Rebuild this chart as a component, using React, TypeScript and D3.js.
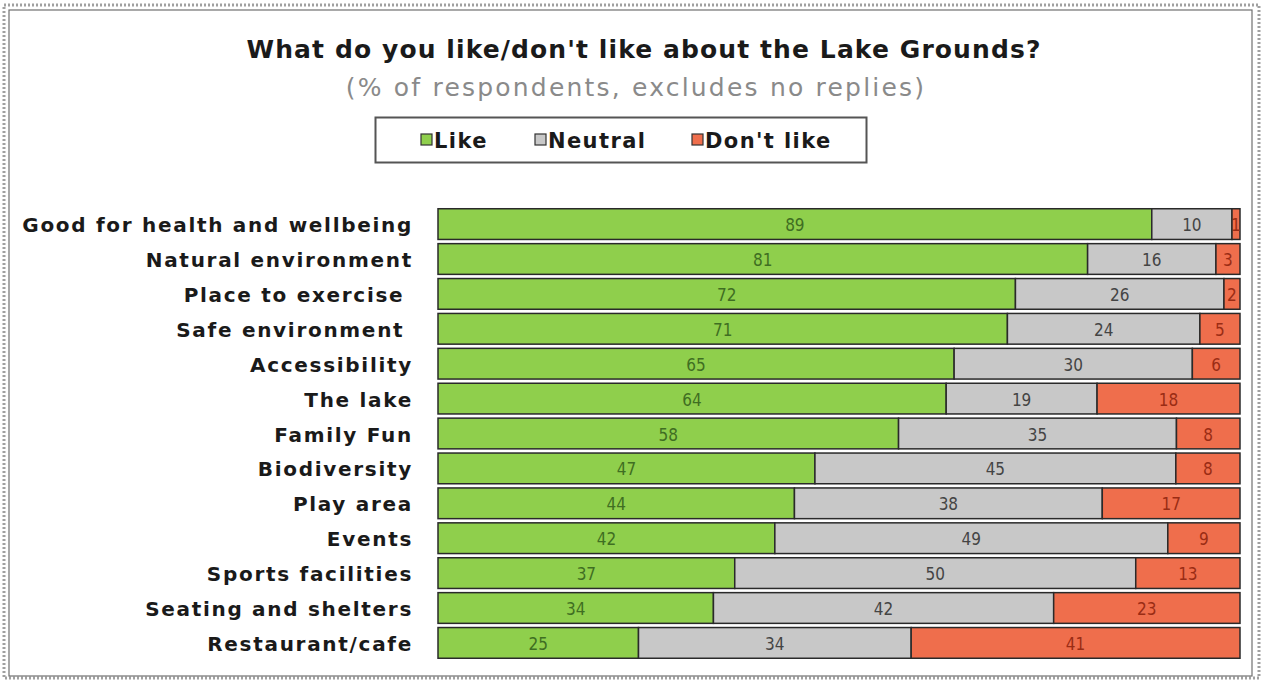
import { useMemo } from "react";
import { scaleBand, scaleLinear, stack, stackOffsetExpand } from "d3";

const categories = [
  "Good for health and wellbeing",
  "Natural environment",
  "Place to exercise ",
  "Safe environment ",
  "Accessibility",
  "The lake",
  "Family Fun",
  "Biodiversity",
  "Play area",
  "Events",
  "Sports facilities",
  "Seating and shelters",
  "Restaurant/cafe",
];
const like = [89, 81, 72, 71, 65, 64, 58, 47, 44, 42, 37, 34, 25];
const neutral = [10, 16, 26, 24, 30, 19, 35, 45, 38, 49, 50, 42, 34];
const dontLike = [1, 3, 2, 5, 6, 18, 8, 8, 17, 9, 13, 23, 41];
const seriesNames = ["Like", "Neutral", "Don't like"];

const title = "What do you like/don't like about the Lake Grounds?";
const subtitle = "(% of respondents, excludes no replies)";

const totalWidth = 1264;
const totalHeight = 680;
const barLeft = 438;
const barRight = 1240;
const barTop = 207;
const barBottom = 660;

const fills = ["#8fcf4c", "#c8c8c8", "#ef6e4c"];
const labelColors = ["#3f6e22", "#444", "#9a2c14"];
const legendX = [421, 535, 692];

const mainFont = "'DejaVu Sans', Verdana, sans-serif";
const numFont = "'Liberation Sans Narrow', 'DejaVu Sans Condensed', sans-serif";

type Row = { cat: string; like: number; neutral: number; dontLike: number };
const keys = ["like", "neutral", "dontLike"] as const;

export default function App() {
  const { layers, x, y } = useMemo(() => {
    const rows: Row[] = categories.map((cat, i) => ({
      cat,
      like: like[i],
      neutral: neutral[i],
      dontLike: dontLike[i],
    }));
    const layers = stack<Row>()
      .keys(keys as unknown as string[])
      .offset(stackOffsetExpand)(rows);
    const x = scaleLinear().domain([0, 1]).range([barLeft, barRight]);
    const y = scaleBand<string>()
      .domain(categories)
      .range([barTop, barBottom])
      .paddingInner(0.12)
      .paddingOuter(0.05);
    return { layers, x, y };
  }, []);

  return (
    <svg
      width={totalWidth}
      height={totalHeight}
      viewBox={`0 0 ${totalWidth} ${totalHeight}`}
      style={{ position: "absolute", left: 0, top: 0, background: "#fff" }}
    >
      <rect
        x={4}
        y={5}
        width={1255}
        height={673}
        fill="none"
        stroke="#a0a0a0"
        strokeWidth={3}
        strokeDasharray="2 2"
      />
      <rect
        x={9}
        y={10}
        width={1243}
        height={666}
        fill="#fff"
        stroke="#707070"
        strokeWidth={1.2}
      />

      <text
        x={644}
        y={58}
        textAnchor="middle"
        fontFamily={mainFont}
        fontWeight="bold"
        fontSize={25}
        letterSpacing={1.1}
        fill="#1a1a1a"
      >
        {title}
      </text>
      <text
        x={636}
        y={96}
        textAnchor="middle"
        fontFamily={mainFont}
        fontSize={25}
        letterSpacing={2.2}
        fill="#8a8a8a"
      >
        {subtitle}
      </text>

      <rect
        x={375.5}
        y={117.5}
        width={491}
        height={45}
        fill="#fff"
        stroke="#555"
        strokeWidth={2}
      />
      {seriesNames.map((name, i) => (
        <g key={name}>
          <rect
            x={legendX[i]}
            y={134}
            width={11}
            height={11}
            fill={fills[i]}
            stroke="#333"
            strokeWidth={1.2}
          />
          <text
            x={legendX[i] + 13}
            y={148}
            fontFamily={mainFont}
            fontWeight="bold"
            fontSize={21}
            letterSpacing={1.4}
            fill="#1a1a1a"
          >
            {name}
          </text>
        </g>
      ))}

      {categories.map((c) => (
        <text
          key={c}
          x={413}
          y={(y(c) ?? 0) + y.bandwidth() / 2 + 1}
          textAnchor="end"
          dominantBaseline="central"
          fontFamily={mainFont}
          fontWeight="bold"
          fontSize={20}
          letterSpacing={1.7}
          fill="#1a1a1a"
          style={{ whiteSpace: "pre" }}
        >
          {c}
        </text>
      ))}

      {layers.map((layer, li) => (
        <g key={layer.key}>
          {layer.map((d) => {
            const cat = d.data.cat;
            const x0 = x(d[0]);
            const x1 = x(d[1]);
            const yy = y(cat) ?? 0;
            const raw = d.data[keys[li]];
            return (
              <g key={cat}>
                <rect
                  x={x0}
                  y={yy}
                  width={x1 - x0}
                  height={y.bandwidth()}
                  fill={fills[li]}
                  stroke="#2a2a2a"
                  strokeWidth={1.5}
                />
                <text
                  x={(x0 + x1) / 2}
                  y={yy + y.bandwidth() / 2 + 1}
                  textAnchor="middle"
                  dominantBaseline="central"
                  fontFamily={numFont}
                  fontSize={17}
                  fill={labelColors[li]}
                >
                  {raw}
                </text>
              </g>
            );
          })}
        </g>
      ))}
    </svg>
  );
}
